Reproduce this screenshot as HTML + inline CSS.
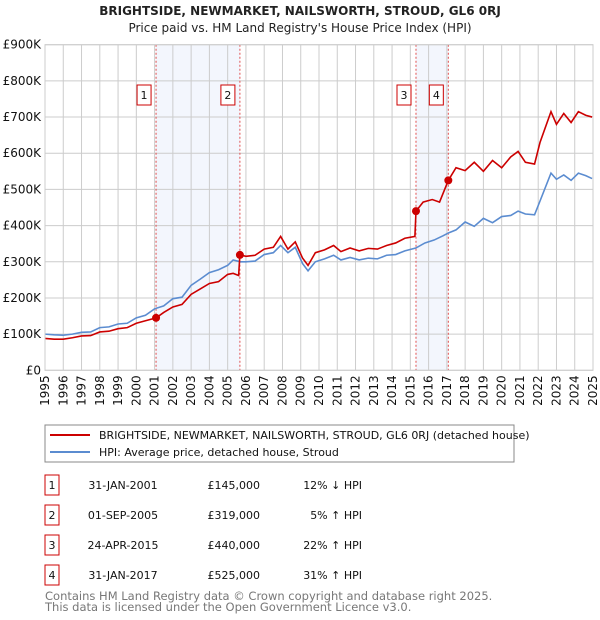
<!DOCTYPE html>
<html><head><meta charset="utf-8"><style>
body{margin:0;background:#fff;}
svg{display:block;font-family:"DejaVu Sans","Liberation Sans",sans-serif;}
</style></head><body>
<svg id="c" width="600" height="620" xmlns="http://www.w3.org/2000/svg">
<text x="300" y="15" text-anchor="middle" font-size="12" font-weight="bold" fill="#222">BRIGHTSIDE, NEWMARKET, NAILSWORTH, STROUD, GL6 0RJ</text>
<text x="300" y="32" text-anchor="middle" font-size="12" fill="#222">Price paid vs. HM Land Registry's House Price Index (HPI)</text>
<g id="plot"></g>
<rect x="45" y="425" width="469" height="37" fill="#fff" stroke="#888"/>
<line x1="50" y1="435" x2="90" y2="435" stroke="#cc0000" stroke-width="2"/>
<text x="99" y="439" font-size="11" fill="#111">BRIGHTSIDE, NEWMARKET, NAILSWORTH, STROUD, GL6 0RJ (detached house)</text>
<line x1="50" y1="452" x2="90" y2="452" stroke="#5b8cd0" stroke-width="2"/>
<text x="99" y="456" font-size="11" fill="#111">HPI: Average price, detached house, Stroud</text>
<g id="table"></g>
<text x="45" y="600" font-size="11.5" fill="#777">Contains HM Land Registry data © Crown copyright and database right 2025.</text>
<text x="45" y="611" font-size="11.5" fill="#777">This data is licensed under the Open Government Licence v3.0.</text>
</svg>
<script>
const hpiYears=[1995,1995.5,1996,1996.5,1997,1997.5,1998,1998.5,1999,1999.5,2000,2000.5,2001,2001.5,2002,2002.5,2003,2003.5,2004,2004.5,2005,2005.3,2005.7,2006,2006.5,2007,2007.5,2007.9,2008.3,2008.7,2009.1,2009.4,2009.8,2010.3,2010.8,2011.2,2011.7,2012.2,2012.7,2013.2,2013.7,2014.2,2014.7,2015.3,2015.8,2016.3,2016.8,2017.1,2017.5,2018,2018.5,2019,2019.5,2020,2020.5,2020.9,2021.3,2021.8,2022.1,2022.7,2023,2023.4,2023.8,2024.2,2024.6,2024.95];
const hpiValues=[100,98,97,100,105,106,118,120,128,130,145,152,170,178,198,202,235,252,270,278,290,305,300,300,302,320,325,345,325,340,295,275,300,308,318,305,312,305,310,308,318,320,330,338,352,360,372,380,388,410,398,420,408,425,428,440,432,430,468,545,528,540,525,545,538,530];
const redYears=[1995,1995.5,1996,1996.5,1997,1997.5,1998,1998.5,1999,1999.5,2000,2000.5,2001.08,2001.5,2002,2002.5,2003,2003.5,2004,2004.5,2005,2005.3,2005.6,2005.67,2006,2006.5,2007,2007.5,2007.9,2008.3,2008.7,2009.1,2009.4,2009.8,2010.3,2010.8,2011.2,2011.7,2012.2,2012.7,2013.2,2013.7,2014.2,2014.7,2015.25,2015.31,2015.7,2016.2,2016.6,2017.08,2017.5,2018,2018.5,2019,2019.5,2020,2020.5,2020.9,2021.3,2021.8,2022.1,2022.7,2023,2023.4,2023.8,2024.2,2024.6,2024.95];
const redValues=[88,86,86,90,95,96,106,108,115,118,130,137,145,160,175,182,210,225,240,245,265,268,262,319,315,318,335,340,370,335,355,310,290,325,333,345,328,338,330,337,335,345,352,365,370,440,465,472,465,525,560,552,575,550,580,560,590,605,575,570,630,715,680,710,685,715,705,700];
const sales=[{n:"1",t:2001.08,v:145,d:"31-JAN-2001",p:"£145,000",h:"12% ↓ HPI"},{n:"2",t:2005.67,v:319,d:"01-SEP-2005",p:"£319,000",h:"5% ↑ HPI"},{n:"3",t:2015.31,v:440,d:"24-APR-2015",p:"£440,000",h:"22% ↑ HPI"},{n:"4",t:2017.08,v:525,d:"31-JAN-2017",p:"£525,000",h:"31% ↑ HPI"}];
const yTicks=[0,100,200,300,400,500,600,700,800,900];
const yTickLabels=["£0","£100K","£200K","£300K","£400K","£500K","£600K","£700K","£800K","£900K"];
const xTicks=[1995,1996,1997,1998,1999,2000,2001,2002,2003,2004,2005,2006,2007,2008,2009,2010,2011,2012,2013,2014,2015,2016,2017,2018,2019,2020,2021,2022,2023,2024,2025];
const NS="http://www.w3.org/2000/svg";
const X0=45,X1=593,Y0=370.3,Y1=44.7;
const xs=t=>X0+(t-1995)/30*(X1-X0);
const ys=v=>Y0-v/900*(Y0-Y1);
const plot=document.getElementById('plot');
function mk(tag,attrs,parent){const e=document.createElementNS(NS,tag);for(const k in attrs)e.setAttribute(k,attrs[k]);(parent||plot).appendChild(e);return e;}
for(let i=0;i<sales.length;i+=2){
 const r=mk('rect',{x:xs(sales[i].t),y:Y1,width:xs(sales[i+1].t)-xs(sales[i].t),height:Y0-Y1,fill:'#f3f6fd'});
 
 
}
yTicks.forEach((v,i)=>{
 const l=mk('line',{x1:X0,x2:X1,y1:ys(v),y2:ys(v),stroke:'#ccc','stroke-width':1});
 
 
 const t=mk('text',{x:X0-4,y:ys(v)+4,'text-anchor':'end','font-size':12,fill:'#111'});
 t.textContent=yTickLabels[i];
 
 
});
xTicks.forEach(y=>{
 const l=mk('line',{x1:xs(y),x2:xs(y),y1:Y1,y2:Y0,stroke:'#ccc','stroke-width':1});
 
 
 const t=mk('text',{x:0,y:0,'text-anchor':'end','font-size':12,fill:'#111',transform:`translate(${xs(y)+4},${Y0+5}) rotate(-90)`});
 t.textContent=y;
 
 
});
sales.forEach(s=>{
 const l=mk('line',{x1:xs(s.t),x2:xs(s.t),y1:Y1,y2:Y0,stroke:'#e05050','stroke-width':1,'stroke-dasharray':'2,2'});
 
 
 const b=mk('rect',{x:xs(s.t)-19,y:85,width:14,height:20,fill:'#fff',stroke:'#cc0000'});
 
 
 const t=mk('text',{x:xs(s.t)-12,y:99,'text-anchor':'middle','font-size':11,fill:'#111'});
 t.textContent=s.n;
 
 
});
const hp=mk('polyline',{points:hpiYears.map((t,i)=>xs(t)+','+ys(hpiValues[i])).join(' '),fill:'none',stroke:'#5b8cd0','stroke-width':1.6});


const rp=mk('polyline',{points:redYears.map((t,i)=>xs(t)+','+ys(redValues[i])).join(' '),fill:'none',stroke:'#cc0000','stroke-width':1.6});


sales.forEach(s=>{
 const c=mk('circle',{cx:xs(s.t),cy:ys(s.v),r:4,fill:'#cc0000'});
 
 
});
const fr=mk('rect',{x:X0,y:Y1,width:X1-X0,height:Y0-Y1,fill:'none',stroke:'#ccc'});


const tb=document.getElementById('table');
sales.forEach((s,i)=>{
 const y=485+i*30;
 const b=mk('rect',{x:45,y:y-10,width:14,height:20,fill:'#fff',stroke:'#cc0000'},tb);
 
 
 const cells=[[52,'middle',s.n,'table-number'],[123,'middle',s.d,'table-date'],[260,'end',s.p,'table-price'],[362,'end',s.h,'table-hpi-diff']];
 cells.forEach(c=>{
  const t=mk('text',{x:c[0],y:y+4,'text-anchor':c[1],'font-size':11,fill:'#111'},tb);
  t.textContent=c[2];
  
  
 });
});
</script>
</body></html>
